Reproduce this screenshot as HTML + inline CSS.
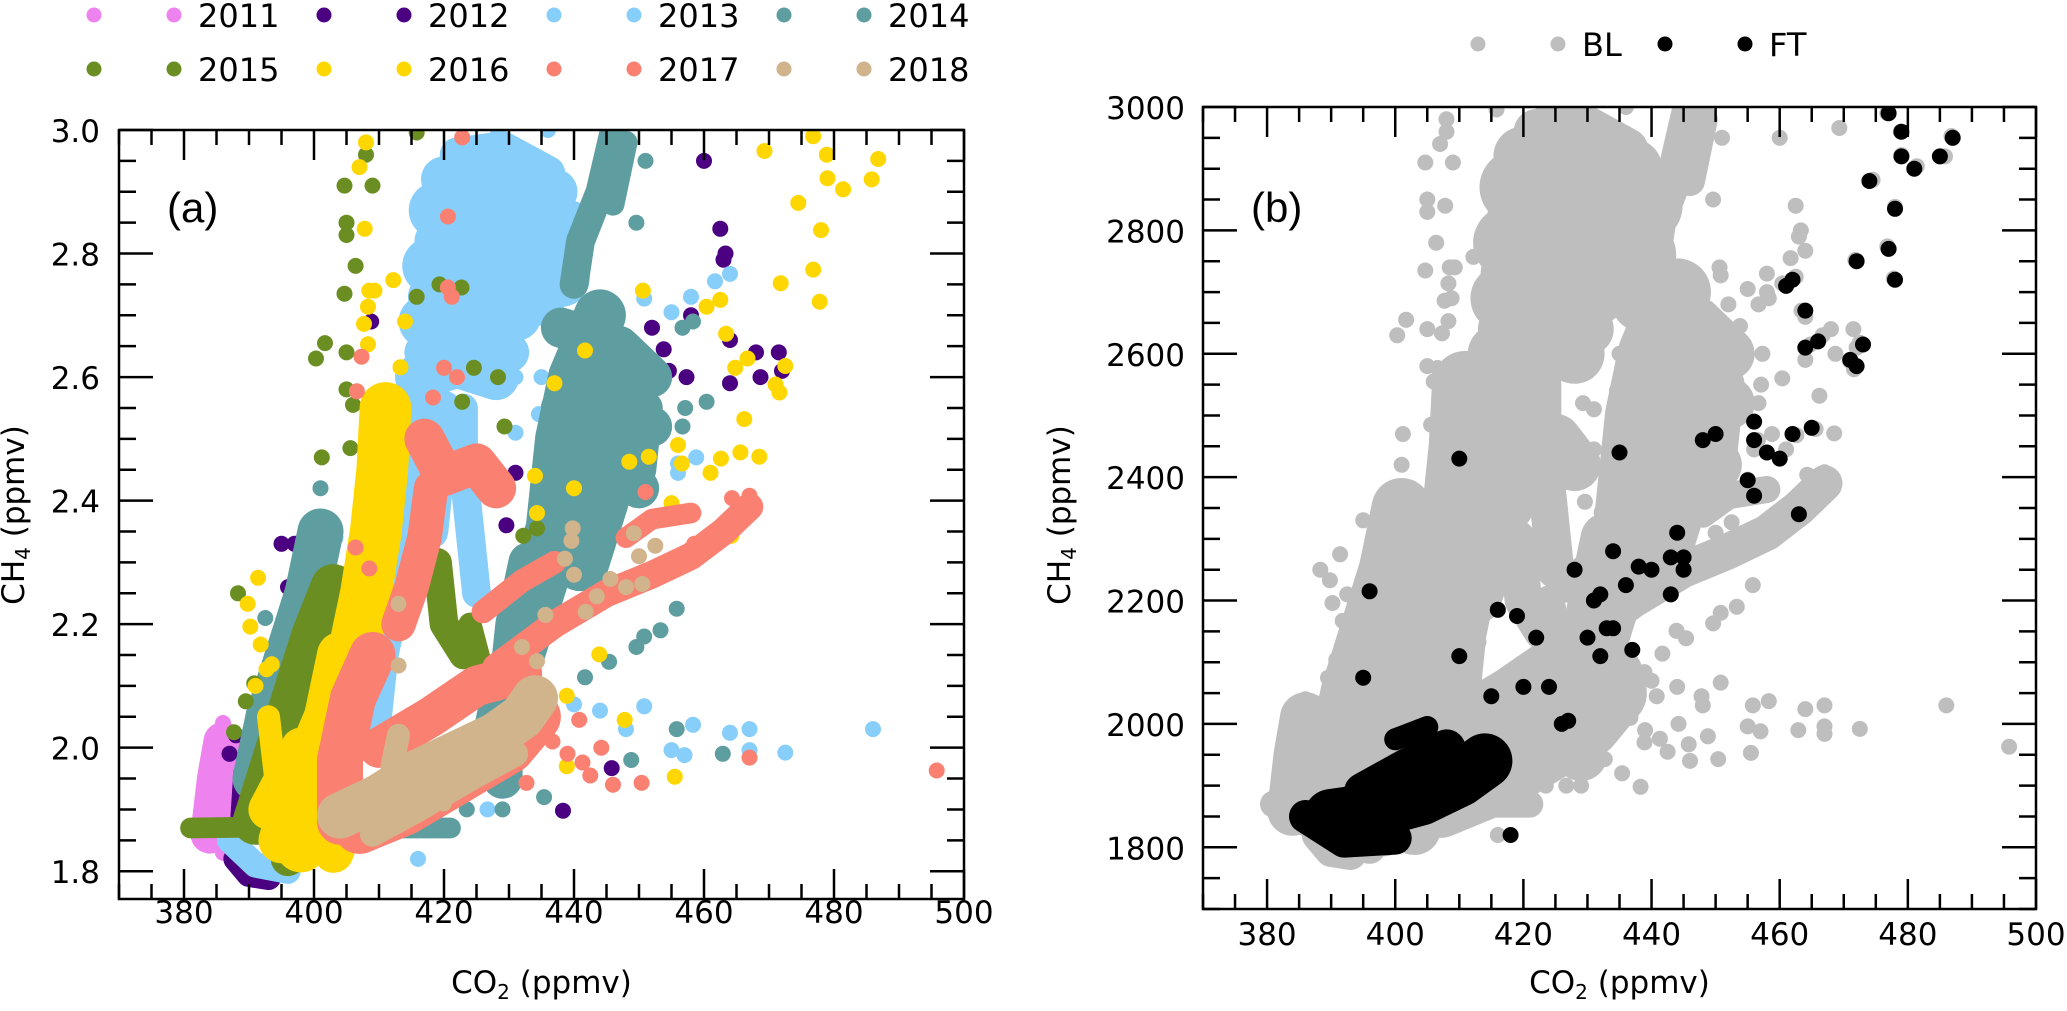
<!DOCTYPE html>
<html><head><meta charset="utf-8"><style>
html,body{margin:0;padding:0;background:#fff;}
svg{display:block;font-family:"DejaVu Sans","Liberation Sans",sans-serif;}
</style></head><body>
<svg id="fig" width="2067" height="1011" xmlns="http://www.w3.org/2000/svg">
<defs>
<clipPath id="clipA"><rect x="119" y="130" width="845" height="769"/></clipPath>
<clipPath id="clipB"><rect x="1203" y="107" width="833" height="802"/></clipPath>
</defs>
<g id="panelA"></g>
<g id="panelB"></g>
</svg>
<script>
// ---------- DATA (CO2 ppmv, CH4 ppmv) ----------
const years = ['2011','2012','2013','2014','2015','2016','2017','2018'];
const yearColors = ['#EE82EE','#4B0082','#87CEFA','#5F9EA0','#6B8E23','#FFD700','#FA8072','#D2B48C'];

const co2_2011 = [383,384,385,386,386,383,387,386];
const ch4_2011 = [1.88,1.92,1.97,2.0,2.04,1.85,1.84,1.83];
const core_2011 = [[[384,1.86],[385,1.95],[386,2.01]],[[382,1.87],[388,1.855]]];

const co2_2012 = [395,397,398,396,400,408.8,460,462.5,463.3,463,452,458,464,468,471.5,472,468.7,464,457.3,454.6,453.8,438.3,445.8,414.2,409,431,429.6,425,401,388,387];
const ch4_2012 = [2.33,2.33,2.31,2.26,2.28,2.69,2.95,2.84,2.80,2.79,2.68,2.70,2.66,2.64,2.64,2.61,2.60,2.59,2.60,2.61,2.645,1.898,1.967,2.56,2.535,2.445,2.36,2.33,2.216,2.02,1.99];
const core_2012 = [[[388,1.82],[390,1.795],[393,1.79]],[[388.5,1.88],[389,1.96]]];

const co2_2013 = [461.7,464,458,455,450.8,458.8,456,456,458.3,464,467,467,472.5,486,455,457,450.8,444,448,416,426.7,436,440,435,431,445,431,434.6,403.3,404,428.3,436,423];
const ch4_2013 = [2.755,2.767,2.73,2.705,2.727,2.47,2.445,2.46,2.037,2.024,2.03,1.996,1.992,2.03,1.996,1.988,2.067,2.06,2.03,1.82,1.90,2.045,2.07,2.6,2.6,2.67,2.51,2.54,2.34,2.27,3.0,3.0,2.975];
const core_2013 = [
 [[422,2.96],[429,2.97],[436,2.93]],
 [[419,2.87],[426,2.88],[433,2.86],[439,2.84]],
 [[418,2.78],[426,2.79],[434,2.78],[438,2.76]],
 [[417,2.69],[424,2.71],[431,2.70]],
 [[416,2.6],[422,2.62],[428,2.6]],
 [[415,2.55],[414,2.45],[413,2.35],[411,2.25],[409,2.15],[408,2.05]],
 [[423,2.55],[423,2.45],[424,2.35],[425,2.25]],
 [[387,1.85],[391,1.81],[396,1.8]],
 [[420,2.92],[430,2.92],[437,2.9]],
 [[419,2.82],[430,2.82],[437,2.8]],
 [[418,2.73],[428,2.75],[435,2.72]],
 [[417,2.64],[425,2.66],[430,2.64]],
 [[420,2.55],[419,2.45],[418,2.35]]];

const co2_2014 = [401,401,399,400,392.5,449.6,451,456.7,458.3,460.4,457.1,456.7,455.8,453.3,449.6,445.4,441.7,455.8,462.9,448.8,435.4,429,423.5,450.8];
const ch4_2014 = [2.42,2.37,2.32,2.30,2.21,2.85,2.95,2.68,2.69,2.56,2.55,2.52,2.225,2.19,2.163,2.139,2.114,2.03,1.99,1.98,1.92,1.90,1.90,2.18];
const core_2014 = [
 [[446,2.99],[444,2.9],[441,2.82],[440,2.75]],
 [[448,2.98],[446,2.88]],
 [[444,2.7],[440,2.6],[438,2.5],[437,2.4],[436,2.3],[433,2.2],[430,2.1],[428,2.0]],
 [[448,2.6],[446,2.5],[444,2.4],[441,2.3]],
 [[451,2.55],[450,2.45]],
 [[433,2.3],[431,2.2],[430,2.1],[429,2.0],[429,1.95]],
 [[391,1.95],[393,2.05],[396,2.15],[399,2.25],[401,2.35]],
 [[410,1.87],[421,1.87]],
 [[438,2.68],[447,2.65],[452,2.6]],
 [[437,2.45],[445,2.45],[450,2.42]],
 [[435,2.35],[442,2.33]],
 [[438,2.55],[452,2.52]]];

const co2_2015 = [415.8,408,404.7,409,405,405,406.4,404.7,415.8,419.3,422.7,401.7,400.3,405,424.6,428.3,422.8,405,406,429.3,401.2,405.6,388.3,389.5,387.7,390.8,434.3,432.2];
const ch4_2015 = [2.996,2.96,2.91,2.91,2.85,2.83,2.78,2.735,2.73,2.75,2.745,2.655,2.63,2.64,2.615,2.6,2.56,2.58,2.555,2.52,2.47,2.485,2.25,2.075,2.025,2.104,2.355,2.343];
const core_2015 = [
 [[381,1.87],[396,1.872]],
 [[391,1.88],[394,1.98],[397,2.08],[400,2.18],[403,2.26]],
 [[396,1.82],[398,1.9]],
 [[419,2.3],[420,2.2],[423,2.15]],
 [[426,2.12],[424,2.2]]];

const co2_2016 = [408,407,407.8,412.2,408.5,409.3,408.3,407.7,414,408.3,413.3,450.6,441.7,437,469.3,476.8,478.9,486.8,479,481.4,485.8,474.5,478,476.8,477.8,471.8,460.4,462.5,463.4,464.8,466.7,472.5,471,471.6,466.2,456,462.6,465.6,468.5,461,456.6,451.5,448.5,455,464.2,434,434.3,440,433.5,443.9,438.9,447.8,455.5,438.9,391.4,389.8,390.2,391.8,393.5,391,392.7];
const ch4_2016 = [2.98,2.94,2.84,2.757,2.74,2.74,2.714,2.686,2.69,2.653,2.616,2.74,2.643,2.59,2.966,2.99,2.96,2.953,2.922,2.904,2.92,2.882,2.838,2.774,2.722,2.752,2.714,2.725,2.67,2.615,2.63,2.618,2.588,2.575,2.532,2.49,2.468,2.478,2.471,2.445,2.46,2.471,2.463,2.396,2.343,2.44,2.38,2.42,2.28,2.151,2.084,2.045,1.953,1.97,2.275,2.233,2.196,2.167,2.135,2.1,2.127];
const core_2016 = [
 [[398,1.84],[401,1.95],[404,2.05],[406,2.15],[408,2.25],[409.5,2.35],[410.5,2.45],[411,2.55]],
 [[393,1.9],[398,2.0]],
 [[403,1.83],[406,1.92]],
 [[393,2.05],[394,1.96]],
 [[395,1.85],[398,1.95],[402,2.05],[404,2.15]]];

const co2_2017 = [436.7,439,440.8,441.3,442.5,444.2,446,450.4,467,495.8,432.7,464.3,467,451,462,458.5,420.6,422.8,420.6,421.2,407.3,406.6,420,422,418.3,418,406.4,408.5];
const ch4_2017 = [2.01,1.99,2.045,1.976,1.955,2.0,1.94,1.943,1.984,1.963,1.943,2.404,2.408,2.414,2.33,2.33,2.86,2.988,2.745,2.73,2.633,2.577,2.615,2.6,2.567,2.5,2.324,2.29];
const core_2017 = [
 [[404,1.88],[404,1.98],[406,2.08],[409,2.15]],
 [[407,1.87],[414,1.9],[422,1.95],[430,2.0],[434,2.05]],
 [[410,2.0],[418,2.05],[425,2.1],[432,2.12]],
 [[417,2.5],[420,2.44],[425,2.46],[428,2.42]],
 [[418,2.42],[417,2.34],[415,2.26],[413,2.2]],
 [[428,2.13],[437,2.2],[445,2.25],[452,2.28],[458,2.31],[463,2.35],[467,2.39]],
 [[426,2.22],[432,2.27],[437,2.3]],
 [[448,2.34],[452,2.37],[458,2.38]]];

const co2_2018 = [439.8,439.6,438.6,449.2,452.5,450,450.5,448,445.6,443.5,441.8,440,435.6,434.3,432,413,413,420];
const ch4_2018 = [2.355,2.335,2.306,2.347,2.327,2.31,2.265,2.26,2.273,2.245,2.22,2.28,2.215,2.14,2.163,2.233,2.133,1.91];
const core_2018 = [
 [[404,1.89],[410,1.92],[416,1.96],[422,1.99],[428,2.02],[432,2.05],[434,2.08]],
 [[409,1.86],[416,1.9],[424,1.95],[431,1.99]],
 [[412,1.97],[413,2.02]]];

// Panel b: free troposphere (FT) points, CH4 in ppbv
const ft_co2 = [410,396,395,410,415,416,419,418,420,422,424,426,427,428,430,431,432,432,433,434,434,435,436,437,438,440,443,443,444,445,445,448,450,455,456,456,456,458,460,461,462,462,463,464,464,465,466,471,472,472,473,474,477,477,478,478,479,479,481,485,487];
const ft_ch4 = [2430,2215,2075,2110,2045,2185,2175,1820,2060,2140,2060,2000,2005,2250,2140,2200,2210,2110,2155,2155,2280,2440,2225,2120,2255,2250,2270,2210,2310,2270,2250,2460,2470,2395,2490,2460,2370,2440,2430,2710,2720,2470,2340,2670,2610,2480,2620,2590,2580,2750,2615,2880,2770,2990,2720,2835,2960,2920,2900,2920,2950];
const ft_core = [
 [[386,1850],[392,1810],[400,1815]],
 [[390,1850],[397,1860],[404,1880],[410,1910],[414,1940]],
 [[395,1890],[402,1930],[408,1960]],
 [[400,1975],[405,1995]]];

// Tick labels
const xTicks = [380,400,420,440,460,480,500];
const yTicksA = ['1.8','2.0','2.2','2.4','2.6','2.8','3.0'];
const yTicksB = [1800,2000,2200,2400,2600,2800,3000];

// ---------- STYLE (not data) ----------
const coreWidths = {
 '2011':[34,20],'2012':[22,16],'2013':[30,50,50,45,40,45,25,22,40,40,40,35,30],
 '2014':[25,20,45,50,30,35,40,18,35,35,30,35],'2015':[18,40,30,25,20],
 '2016':[45,35,35,20,40],'2017':[40,45,35,35,30,24,20,18],'2018':[40,22,20]};
const ftCoreWidths = [30,50,35,20];

const seriesCO2 = [co2_2011,co2_2012,co2_2013,co2_2014,co2_2015,co2_2016,co2_2017,co2_2018];
const seriesCH4 = [ch4_2011,ch4_2012,ch4_2013,ch4_2014,ch4_2015,ch4_2016,ch4_2017,ch4_2018];
const seriesCore = [core_2011,core_2012,core_2013,core_2014,core_2015,core_2016,core_2017,core_2018];

const NS = 'http://www.w3.org/2000/svg';
const R = 8;
const A = {x0:119,x1:964,y0:130,y1:899,xmin:370,xmax:500,ymin:1.755,ymax:3.0,lab:24};
const B = {x0:1203,x1:2036,y0:107,y1:909,xmin:370,xmax:500,ymin:1700,ymax:3000,lab:36};
function sx(p,v){return p.x0+(v-p.xmin)/(p.xmax-p.xmin)*(p.x1-p.x0);}
function sy(p,v){return p.y1-(v-p.ymin)/(p.ymax-p.ymin)*(p.y1-p.y0);}
function mk(tag,attrs,parent){const e=document.createElementNS(NS,tag);for(const k in attrs)e.setAttribute(k,attrs[k]);parent.appendChild(e);return e;}

function drawSeries(p,parent,co2,ch4,cores,widths,color,scale,name,wMul){
  const g=mk('g',{},parent);
  
  
  cores.forEach((st,i)=>{
    const d=st.map((pt,j)=>(j?'L':'M')+sx(p,pt[0]).toFixed(1)+' '+sy(p,pt[1]*scale).toFixed(1)).join(' ');
    const path=mk('path',{d:d,fill:'none',stroke:color,'stroke-width':widths[i]*wMul,'stroke-linecap':'round','stroke-linejoin':'round'},g);
    
    
  });
  co2.forEach((x,i)=>{
    const c=mk('circle',{cx:sx(p,x).toFixed(1),cy:sy(p,ch4[i]*scale).toFixed(1),r:R,fill:color},g);
    
    
  });
}

function drawAxes(p,parent,yLabels,yVals,yMinorStep,yMajorStep,labelRight,titleX,panelLabel,lblX){
  const g=mk('g',{},parent);
  
  
  const frame=mk('rect',{x:p.x0,y:p.y0,width:p.x1-p.x0,height:p.y1-p.y0,fill:'none',stroke:'#000','stroke-width':2.5},g);
  
  
  let d='';
  for(let v=370;v<=500.01;v+=5){
    const x=sx(p,v), L=(Math.round(v)%20===0)?30:15;
    d+=`M${x} ${p.y1}V${p.y1-L}M${x} ${p.y0}V${p.y0+L}`;
  }
  const start=Math.ceil(p.ymin/yMinorStep-1e-6)*yMinorStep;
  for(let v=start;v<=p.ymax+1e-6;v+=yMinorStep){
    const y=sy(p,v);
    const major=Math.abs(Math.round(v/yMajorStep)*yMajorStep-v)<yMinorStep/10;
    const L=major?34:17;
    d+=`M${p.x0} ${y}H${p.x0+L}M${p.x1} ${y}H${p.x1-L}`;
  }
  const ticks=mk('path',{d:d,stroke:'#000','stroke-width':2.5,fill:'none'},g);
  
  
  xTicks.forEach(v=>{
    const t=mk('text',{x:sx(p,v),y:p.y1+p.lab,'text-anchor':'middle','font-size':31},g);
    t.textContent=v;
    
    
  });
  yLabels.forEach((lab,i)=>{
    const t=mk('text',{x:labelRight,y:sy(p,yVals[i])+12,'text-anchor':'end','font-size':31},g);
    t.textContent=lab;
    
    
  });
  const xt=mk('text',{x:(p.x0+p.x1)/2,y:993,'text-anchor':'middle','font-size':31},g);
  xt.innerHTML='CO<tspan font-size="20" dy="6">2</tspan><tspan dy="-6"> (ppmv)</tspan>';
  
  
  const cy=515;
  const yt=mk('text',{x:titleX,y:cy,'text-anchor':'middle','font-size':31,transform:`rotate(-90 ${titleX} ${cy})`},g);
  yt.innerHTML='CH<tspan font-size="20" dy="6">4</tspan><tspan dy="-6"> (ppmv)</tspan>';
  
  
  const pl=mk('text',{x:lblX,y:222,'font-size':42,'font-family':'Liberation Sans, sans-serif'},g);
  pl.textContent=panelLabel;
  
  
}

// Panel A
const pa=document.getElementById('panelA');
const dA=mk('g',{'clip-path':'url(#clipA)'},pa);


years.forEach((y,i)=>drawSeries(A,dA,seriesCO2[i],seriesCH4[i],seriesCore[i],coreWidths[y],yearColors[i],1,'series-'+y,1.15));
drawAxes(A,pa,yTicksA,yTicksA.map(Number),0.05,0.2,100,24,'(a)',167);

// Legend A
const legA=mk('g',{},pa);


years.forEach((y,i)=>{
  const col=i%4,row=Math.floor(i/4);
  const bx=94+col*230, by=row?69:15;
  const e=mk('g',{},legA);
  
  
  mk('circle',{cx:bx,cy:by,r:7.5,fill:yearColors[i]},e);
  mk('circle',{cx:bx+80,cy:by,r:7.5,fill:yearColors[i]},e);
  const t=mk('text',{x:bx+104,y:by+12,'font-size':32},e);
  t.textContent=y;
});

// Panel B
const pb=document.getElementById('panelB');
const dB=mk('g',{'clip-path':'url(#clipB)'},pb);


years.forEach((y,i)=>drawSeries(B,dB,seriesCO2[i],seriesCH4[i],seriesCore[i],coreWidths[y],'#BEBEBE',1000,'bl-'+y,1.5));
drawSeries(B,dB,ft_co2,ft_ch4,ft_core,ftCoreWidths,'#000000',1,'series-ft',1.1);
drawAxes(B,pb,yTicksB.map(String),yTicksB,50,200,1185,1070,'(b)',1251);

const legB=mk('g',{},pb);


[['BL','#BEBEBE',1478],['FT','#000000',1665]].forEach(([lab,c,x])=>{
  const e=mk('g',{},legB);
  
  
  mk('circle',{cx:x,cy:44,r:7.5,fill:c},e);
  mk('circle',{cx:x+80,cy:44,r:7.5,fill:c},e);
  const t=mk('text',{x:x+104,y:56,'font-size':32},e);
  t.textContent=lab;
});
</script>
</body></html>
